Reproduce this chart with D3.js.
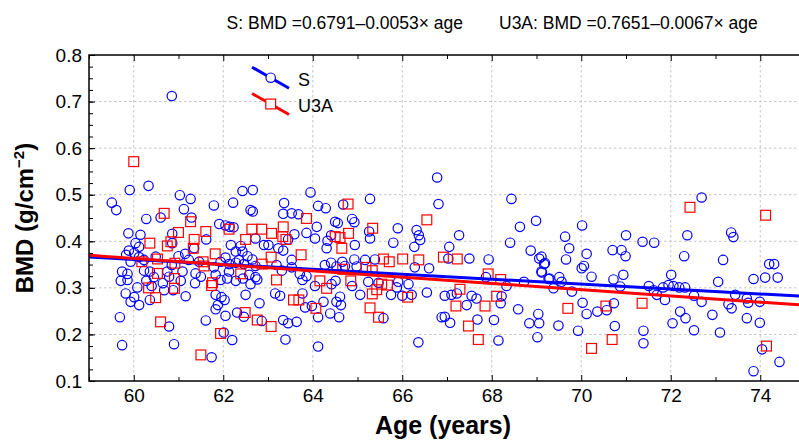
<!DOCTYPE html>
<html><head><meta charset="utf-8">
<script src="https://cdn.jsdelivr.net/npm/d3@7"></script>
<style>
body{margin:0;background:#fff}
svg{display:block}
text{font-family:"Liberation Sans",Arial,Helvetica,sans-serif;fill:#000}
</style>
</head><body>
<svg id="chart" width="799" height="440"></svg>
<script>
// ---------- data ----------
const seriesNames = ["S", "U3A"];
const seriesColors = ["#0000ff", "#ff0000"];
const intercepts = [0.6791, 0.7651];
const slopes = [-0.0053, -0.0067];
const titleTexts = ["S: BMD =0.6791\u20130.0053\u00d7 age", "U3A: BMD =0.7651\u20130.0067\u00d7 age"];
const xMajorTicks = [60, 62, 64, 66, 68, 70, 72, 74];
const xMinorTicks = [59, 61, 63, 65, 67, 69, 71, 73, 75];
const yMajorTicks = [0.1, 0.2, 0.3, 0.4, 0.5, 0.6, 0.7, 0.8];
const yMinorStep = 0.025;

// S group: [age, BMD]
const sPoints = [
[60.85,0.712],[66.78,0.537],
[59.91,0.510],[60.33,0.519],[59.51,0.483],[59.61,0.467],[61.03,0.499],[61.27,0.491],[61.12,0.469],
[60.28,0.448],[60.60,0.451],[61.29,0.451],[61.79,0.477],[62.22,0.483],[62.43,0.508],[62.66,0.510],
[62.61,0.467],[62.66,0.464],[61.91,0.437],[62.05,0.434],[62.14,0.431],[62.23,0.430],[59.88,0.417],
[60.15,0.414],[60.86,0.416],[61.62,0.404],[60.04,0.396],[60.12,0.388],[59.89,0.380],[59.83,0.371],
[60.01,0.375],[60.12,0.366],[60.23,0.360],[59.93,0.356],[60.86,0.396],[61.00,0.368],[61.15,0.373],
[61.35,0.385],[60.49,0.367],[60.85,0.349],[61.23,0.360],[61.46,0.356],[62.17,0.392],[62.39,0.390],
[62.72,0.406],[62.91,0.392],[62.28,0.378],[62.43,0.378],[62.54,0.368],[62.35,0.360],[62.65,0.361],
[62.05,0.365],[61.94,0.356],[62.13,0.351],[62.28,0.354],[62.46,0.351],[62.72,0.347],[59.74,0.335],
[59.86,0.330],[59.71,0.315],[59.86,0.317],[60.23,0.337],[60.36,0.335],[60.45,0.323],[60.28,0.315],
[60.40,0.304],[60.75,0.335],[60.79,0.324],[60.65,0.310],[61.09,0.335],[61.05,0.315],[61.38,0.331],
[61.50,0.324],[61.37,0.310],[61.79,0.344],[61.83,0.328],[61.94,0.317],[62.13,0.335],[62.09,0.320],
[62.28,0.315],[62.44,0.320],[62.58,0.328],[62.72,0.323],[62.76,0.318],[62.61,0.308],[60.08,0.301],
[59.82,0.288],[60.01,0.280],[59.93,0.270],[60.12,0.263],[60.36,0.274],[60.68,0.295],[60.88,0.295],
[61.16,0.282],[61.83,0.285],[61.96,0.280],[62.03,0.274],[61.88,0.263],[62.50,0.285],[62.81,0.267],
[61.83,0.254],[62.05,0.240],[62.31,0.247],[62.46,0.238],[62.86,0.229],[59.69,0.237],[60.79,0.217],
[61.61,0.230],[62.01,0.204],[62.20,0.188],[59.74,0.177],[60.90,0.179],[61.74,0.151],
[63.95,0.505],[66.81,0.480],[63.36,0.482],[64.12,0.476],[64.29,0.471],[64.68,0.479],[65.28,0.491],
[63.34,0.459],[63.53,0.460],[63.68,0.458],[64.50,0.442],[64.56,0.439],[64.88,0.448],[64.93,0.441],
[64.09,0.431],[65.90,0.428],[66.32,0.424],[66.37,0.413],[66.40,0.403],[66.27,0.388],[65.80,0.397],
[63.01,0.392],[63.23,0.385],[63.34,0.380],[63.45,0.404],[63.59,0.415],[63.86,0.418],[64.05,0.406],
[64.31,0.385],[64.33,0.401],[64.41,0.413],[64.94,0.392],[65.26,0.421],[65.28,0.406],[63.53,0.360],
[63.19,0.349],[63.31,0.337],[63.53,0.344],[63.71,0.330],[63.86,0.325],[63.77,0.317],[64.27,0.349],
[64.41,0.354],[64.66,0.356],[64.72,0.347],[64.93,0.361],[65.17,0.360],[65.39,0.361],[64.98,0.346],
[64.53,0.346],[64.05,0.304],[64.42,0.308],[64.51,0.315],[65.24,0.313],[65.47,0.311],[65.91,0.313],
[66.14,0.308],[65.88,0.301],[64.88,0.304],[65.06,0.285],[64.61,0.281],[64.53,0.270],[64.63,0.263],
[63.16,0.288],[63.27,0.283],[63.77,0.288],[63.83,0.258],[63.98,0.261],[64.24,0.270],[64.39,0.245],
[64.59,0.237],[64.12,0.237],[63.34,0.231],[63.45,0.224],[63.64,0.227],[63.39,0.189],[64.12,0.174],
[65.58,0.235],[66.36,0.183],[66.55,0.290],[66.21,0.285],[65.75,0.285],[66.00,0.283],[66.88,0.237],
[66.60,0.342],[66.28,0.344],
[68.44,0.491],[68.99,0.444],[68.63,0.431],[67.27,0.413],[68.41,0.397],[70.02,0.434],[69.64,0.410],
[69.73,0.385],[69.66,0.361],[70.12,0.373],[70.01,0.342],[70.06,0.347],[70.23,0.324],[70.70,0.381],
[68.87,0.380],[69.06,0.363],[69.17,0.351],[69.12,0.333],[69.27,0.319],[69.51,0.323],[69.56,0.313],
[69.38,0.299],[69.79,0.292],[70.03,0.268],[70.12,0.244],[70.36,0.249],[70.57,0.252],[70.73,0.267],
[70.72,0.318],[70.75,0.218],[67.05,0.388],[67.03,0.363],[67.50,0.363],[67.93,0.361],[67.87,0.323],
[68.33,0.304],[68.22,0.282],[68.20,0.267],[68.72,0.313],[66.95,0.283],[67.10,0.285],[67.22,0.288],
[67.44,0.263],[67.55,0.283],[67.66,0.277],[68.59,0.254],[66.95,0.238],[67.07,0.225],[67.68,0.232],
[68.05,0.231],[68.84,0.224],[69.04,0.244],[69.06,0.224],[69.49,0.219],[69.02,0.194],[69.93,0.208],
[68.15,0.187],[69.11,0.367],[69.19,0.353],[69.11,0.335],[69.29,0.320],
[72.69,0.494],[71.00,0.413],[71.37,0.399],[71.63,0.397],[72.37,0.413],[73.35,0.419],[73.40,0.409],
[70.90,0.381],[70.99,0.368],[72.30,0.368],[73.17,0.360],[74.20,0.351],[74.31,0.351],[70.94,0.328],
[72.01,0.328],[73.06,0.313],[73.85,0.319],[74.11,0.322],[74.39,0.322],[71.51,0.304],[70.87,0.303],
[71.83,0.301],[71.95,0.306],[72.06,0.304],[72.19,0.301],[72.32,0.301],[71.69,0.285],[71.87,0.274],
[72.52,0.283],[72.69,0.270],[73.29,0.265],[73.36,0.256],[73.44,0.285],[73.70,0.277],[73.73,0.268],
[73.99,0.270],[72.21,0.249],[72.33,0.235],[72.93,0.242],[73.70,0.235],[73.99,0.225],[72.04,0.224],
[72.52,0.209],[73.10,0.204],[71.39,0.208],[71.39,0.181],[71.62,0.295],
[73.85,0.121],[74.43,0.141],[74.04,0.168]
];

// U3A group: [age, BMD]
const u3aPoints = [
[60.00,0.571],
[60.68,0.460],[61.27,0.442],[61.00,0.419],[61.61,0.421],[62.13,0.426],[62.64,0.426],[62.86,0.426],
[62.50,0.404],[60.36,0.396],[60.83,0.399],[60.75,0.390],[61.35,0.404],[61.33,0.385],[61.82,0.373],
[60.53,0.362],[60.18,0.356],[60.92,0.353],[61.55,0.356],[61.57,0.347],[62.87,0.351],[60.53,0.331],
[60.91,0.320],[60.91,0.299],[60.33,0.300],[60.49,0.279],[61.76,0.311],[61.74,0.305],[62.39,0.330],
[62.49,0.247],[62.76,0.231],[60.60,0.227],[61.94,0.202],[61.50,0.156],
[64.79,0.480],[63.86,0.449],[63.34,0.431],[63.08,0.417],[63.40,0.404],[63.33,0.410],[63.07,0.366],
[63.74,0.371],[64.50,0.410],[64.61,0.408],[64.80,0.417],[64.65,0.385],[65.34,0.428],[66.55,0.446],
[64.67,0.340],[65.19,0.344],[65.33,0.337],[65.58,0.362],[65.71,0.356],[66.01,0.362],[66.37,0.360],
[66.92,0.366],[63.19,0.317],[63.57,0.274],[63.69,0.274],[64.16,0.315],[64.31,0.299],[64.85,0.315],
[65.54,0.308],[65.67,0.306],[65.33,0.287],[65.43,0.296],[66.12,0.280],[64.07,0.256],[65.28,0.257],
[65.47,0.237],[63.07,0.217],
[67.23,0.362],[67.92,0.330],[68.20,0.318],[67.29,0.297],[68.11,0.282],[67.20,0.261],[67.85,0.261],
[69.70,0.256],[70.55,0.261],[67.48,0.218],[67.70,0.189],[70.23,0.170],[70.69,0.189],
[72.43,0.473],[74.12,0.456],[71.36,0.267],[74.14,0.175]
];

// ---------- drawing ----------
const svg = d3.select("#chart");
const pLeft = 89, pRight = 805, pTop = 55, pBottom = 381;
const x = d3.scaleLinear().domain([59, 75]).range([pLeft, pRight]);
const y = d3.scaleLinear().domain([0.1, 0.8]).range([pBottom, pTop]);

svg.append("defs").append("clipPath").attr("id", "plotclip")
  .append("rect").attr("x", pLeft).attr("y", pTop).attr("width", pRight - pLeft).attr("height", pBottom - pTop);

// grid
const grid = svg.append("g").attr("stroke", "#c4c4c4").attr("stroke-width", 1).attr("stroke-dasharray", "2.5,2.5");
grid.selectAll("line.vx").data(xMajorTicks).join("line")
  .attr("x1", d => x(d)).attr("x2", d => x(d)).attr("y1", pTop).attr("y2", pBottom);
grid.selectAll("line.hy").data(yMajorTicks.filter(v => v > 0.15 && v < 0.75)).join("line")
  .attr("x1", pLeft).attr("x2", pRight).attr("y1", d => y(d)).attr("y2", d => y(d));

// markers
const plot = svg.append("g").attr("clip-path", "url(#plotclip)");
plot.append("g").selectAll("circle").data(sPoints).join("circle")
  .attr("cx", d => x(d[0])).attr("cy", d => y(d[1])).attr("r", 4.7)
  .attr("fill", "none").attr("stroke", seriesColors[0]).attr("stroke-width", 1.2);
const sq = 9.8;
plot.append("g").selectAll("rect").data(u3aPoints).join("rect")
  .attr("x", d => x(d[0]) - sq / 2).attr("y", d => y(d[1]) - sq / 2)
  .attr("width", sq).attr("height", sq)
  .attr("fill", "none").attr("stroke", seriesColors[1]).attr("stroke-width", 1.2);

// regression lines
const line = d3.line().x(d => x(d[0])).y(d => y(d[1]));
[0, 1].forEach(i => {
  const pts = [59, 75].map(a => [a, intercepts[i] + slopes[i] * a]);
  plot.append("path").attr("d", line(pts)).attr("fill", "none")
    .attr("stroke", seriesColors[i]).attr("stroke-width", 3);
});

// axes
function styleAxis(g) {
  g.select(".domain").remove();
  g.selectAll(".tick line").attr("stroke", "#000").attr("stroke-width", 1);
  g.selectAll(".tick text").attr("font-size", 19).attr("fill", "#000")
    .style("font-family", '"Liberation Sans",Arial,sans-serif');
}
svg.append("g").attr("transform", `translate(0,${pBottom})`)
  .call(d3.axisBottom(x).tickValues(xMajorTicks).tickSize(-6).tickPadding(8).tickFormat(d3.format("d")))
  .call(styleAxis);
svg.append("g").attr("transform", `translate(0,${pBottom})`)
  .call(d3.axisBottom(x).tickValues(xMinorTicks).tickSize(-4).tickFormat(""))
  .call(styleAxis);
svg.append("g").attr("transform", `translate(0,${pTop})`)
  .call(d3.axisTop(x).tickValues(xMajorTicks).tickSize(-6).tickFormat(""))
  .call(styleAxis);
svg.append("g").attr("transform", `translate(0,${pTop})`)
  .call(d3.axisTop(x).tickValues(xMinorTicks).tickSize(-4).tickFormat(""))
  .call(styleAxis);
svg.append("g").attr("transform", `translate(${pLeft},0)`)
  .call(d3.axisLeft(y).tickValues(yMajorTicks).tickSize(-6).tickPadding(7).tickFormat(d3.format(".1f")))
  .call(styleAxis);
const yMinor = d3.range(0.1, 0.8001, yMinorStep);
svg.append("g").attr("transform", `translate(${pLeft},0)`)
  .call(d3.axisLeft(y).tickValues(yMinor).tickSize(-4).tickFormat(""))
  .call(styleAxis);

// frame
svg.append("path").attr("d", `M${pRight},${pTop}H${pLeft}V${pBottom}H${pRight}`)
  .attr("fill", "none").attr("stroke", "#000").attr("stroke-width", 1.5);

// title
svg.append("text").attr("x", 463).attr("y", 29).attr("text-anchor", "end").attr("font-size", 17.5).text(titleTexts[0]);
svg.append("text").attr("x", 499).attr("y", 29).attr("text-anchor", "start").attr("font-size", 17.5).text(titleTexts[1]);

// axis titles
svg.append("text").attr("x", 443).attr("y", 434).attr("text-anchor", "middle")
  .attr("font-size", 25).attr("font-weight", "bold").text("Age (years)");
const yt = svg.append("text").attr("transform", `translate(33,${(pTop + pBottom) / 2}) rotate(-90)`)
  .attr("text-anchor", "middle").attr("font-size", 24).attr("font-weight", "bold");
yt.append("tspan").text("BMD (g/cm");
yt.append("tspan").attr("font-size", 15).attr("dy", -9).text("\u22122");
yt.append("tspan").attr("dy", 9).text(")");

// legend
const legend = svg.append("g");
seriesNames.forEach((name, i) => {
  const y0 = 77.7 + i * 26.3;
  const g = legend.append("g");
  g.append("line").attr("x1", 252).attr("y1", y0 - 10.5).attr("x2", 289).attr("y2", y0 + 10.5)
    .attr("stroke", seriesColors[i]).attr("stroke-width", 3);
  if (i === 0) {
    g.append("circle").attr("cx", 270.7).attr("cy", y0).attr("r", 4.7).attr("fill", "#fff")
      .attr("stroke", seriesColors[i]).attr("stroke-width", 1.2);
  } else {
    g.append("rect").attr("x", 270.7 - sq / 2).attr("y", y0 - sq / 2).attr("width", sq).attr("height", sq)
      .attr("fill", "#fff").attr("stroke", seriesColors[i]).attr("stroke-width", 1.2);
  }
  g.append("text").attr("x", 298).attr("y", y0 + 8).attr("font-size", 18).text(name);
});
</script>
</body></html>
